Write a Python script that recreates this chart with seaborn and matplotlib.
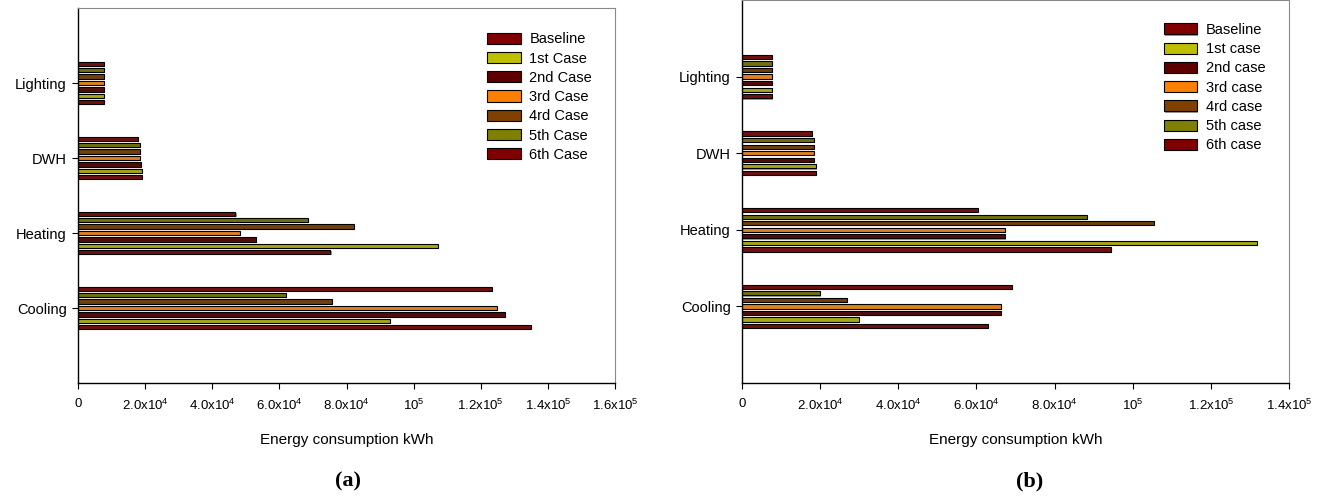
import numpy as np
import pandas as pd
import matplotlib
matplotlib.use("Agg")
import matplotlib.pyplot as plt
import matplotlib.patheffects as pe
from matplotlib.patches import Patch
import seaborn as sns

# end uses, top to bottom
uses = ["Lighting", "DWH", "Heating", "Cooling"]

cases_a = ["Baseline", "1st Case", "2nd Case", "3rd Case", "4rd Case", "5th Case", "6th Case"]
cases_b = ["Baseline", "1st case", "2nd case", "3rd case", "4rd case", "5th case", "6th case"]
case_colors = ["#800000", "#BDBF00", "#5E0000", "#FF8000", "#804000", "#808000", "#800000"]

# energy consumption (kWh) per case, order: Lighting, DWH, Heating, Cooling
vals_a = {
    "Baseline": [7700, 19000, 75200, 135000],
    "1st Case": [7700, 19000, 107300, 92900],
    "2nd Case": [7700, 18700, 52900, 127200],
    "3rd Case": [7700, 18400, 48200, 124700],
    "4rd Case": [7700, 18400, 82300, 75700],
    "5th Case": [7700, 18400, 68500, 62000],
    "6th Case": [7700, 17900, 46900, 123400],
}
vals_b = {
    "Baseline": [7600, 18900, 94500, 62900],
    "1st case": [7600, 18900, 131900, 30000],
    "2nd case": [7600, 18500, 67400, 66300],
    "3rd case": [7600, 18500, 67400, 66300],
    "4rd case": [7600, 18300, 105500, 26900],
    "5th case": [7600, 18500, 88300, 19950],
    "6th case": [7600, 17800, 60400, 69100],
}

xticks_a = np.arange(0, 1.61e5, 2e4)
xticklabels_a = ["0", "2.0x10$^4$", "4.0x10$^4$", "6.0x10$^4$", "8.0x10$^4$",
                 "10$^5$", "1.2x10$^5$", "1.4x10$^5$", "1.6x10$^5$"]
xticks_b = np.arange(0, 1.41e5, 2e4)
xticklabels_b = xticklabels_a[:8]

sns.set_style("ticks")
plt.rcParams["font.family"] = ["Liberation Sans", "DejaVu Sans"]
plt.rcParams["mathtext.fontset"] = "custom"
plt.rcParams["mathtext.rm"] = "Liberation Sans"
plt.rcParams["mathtext.default"] = "regular"
for k in ["text.color", "axes.labelcolor", "xtick.color", "ytick.color"]:
    plt.rcParams[k] = "black"

fig = plt.figure(figsize=(13.22, 4.98), dpi=100)
ax_a = fig.add_axes([78 / 1322, 1 - 383 / 498, 537 / 1322, 375 / 498])
ax_b = fig.add_axes([742 / 1322, 1 - 383 / 498, 547 / 1322, 383 / 498])

shadow = [pe.SimplePatchShadow(offset=(0.8, -0.8), shadow_rgbFace="#9a9a9a", alpha=1), pe.Normal()]


def draw_panel(ax, vals, cases, xmax, xticks, xticklabels, leg_anchor):
    df = pd.DataFrame([(u, c, vals[c][i]) for c in cases for i, u in enumerate(uses)],
                      columns=["use", "case", "kwh"])
    pal = dict(zip(cases, case_colors))
    sns.barplot(data=df, y="use", x="kwh", hue="case", order=uses,
                hue_order=cases[::-1], palette=pal, orient="h",
                width=0.6, gap=0.35, edgecolor="black", linewidth=0.8,
                errorbar=None, legend=False, ax=ax)
    for p in ax.patches:
        p.set_path_effects(shadow)
    ax.set_ylim(4, -1)
    ax.set_xlim(0, xmax)
    ax.set_xticks(xticks)
    ax.set_xticklabels(xticklabels)
    ax.set_ylabel("")
    ax.set_xlabel("Energy consumption kWh", fontsize=11, labelpad=14)
    for s in ["top", "right"]:
        ax.spines[s].set_visible(True)
        ax.spines[s].set_color("#8a8a8a")
        ax.spines[s].set_linewidth(0.8)
    for s in ["left", "bottom"]:
        ax.spines[s].set_color("black")
        ax.spines[s].set_linewidth(1.0)
    ax.tick_params(axis="y", direction="out", length=4, width=0.8, labelsize=10.5, pad=4)
    ax.tick_params(axis="x", direction="out", length=4, width=0.8, labelsize=9.5, pad=7)

    handles = [Patch(facecolor=pal[c], edgecolor="black", linewidth=0.8, path_effects=shadow)
               for c in cases]
    ax.legend(handles=handles, labels=cases, loc="upper left", bbox_to_anchor=leg_anchor,
              frameon=False, fontsize=10.5, handlelength=2.3, handleheight=0.8,
              labelspacing=0.36, handletextpad=0.6, borderpad=0, borderaxespad=0)


draw_panel(ax_a, vals_a, cases_a, 1.6e5, xticks_a, xticklabels_a, (0.762, 0.935))
draw_panel(ax_b, vals_b, cases_b, 1.4e5, xticks_b, xticklabels_b, (0.771, 0.94))

fig.text(348 / 1322, 1 - 481 / 498, "(a)", ha="center", va="center",
         family="Liberation Serif", fontweight="bold", fontsize=16)
fig.text(1030 / 1322, 1 - 481 / 498, "(b)", ha="center", va="center",
         family="Liberation Serif", fontweight="bold", fontsize=16)

fig.savefig("out.png", dpi=100)
